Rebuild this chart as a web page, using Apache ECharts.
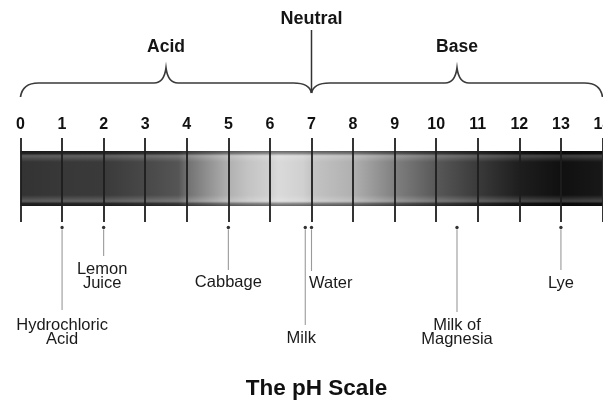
<!DOCTYPE html>
<html>
<head>
<meta charset="utf-8">
<script src="https://cdn.jsdelivr.net/npm/echarts@6/dist/echarts.min.js"></script>
<style>
html,body{margin:0;padding:0;background:#fff;}
#chart{width:603px;height:401px;}
</style>
</head>
<body>
<div id="chart"></div>
<script>
// ---------- data ----------
const phTicks = [0,1,2,3,4,5,6,7,8,9,10,11,12,13,14];
const tickLabels = ['0','1','2','3','4','5','6','7','8','9','10','11','12','13','14'];
const gradientPH   = [0, 1, 2, 3, 3.8, 4, 4.5, 5, 5.5, 6, 6.2, 6.8, 7, 8, 9, 10, 11, 12, 13, 14];
const gradientGray = [51, 56, 58, 72, 85, 112, 144, 176, 196, 208, 218, 208, 196, 176, 128, 88, 58, 30, 16, 24];
const regionNames = ['Acid', 'Base'];
const regionFrom  = [0, 7];
const regionTo    = [7, 14];
const neutralPH = 7;
const neutralLabel = 'Neutral';
const substanceNames = ['Hydrochloric\nAcid', 'Lemon\nJuice', 'Cabbage', 'Milk', 'Water', 'Milk of\nMagnesia', 'Lye'];
const substancePH    = [1, 2, 5, 6.85, 7, 10.5, 13];
const chartTitle = 'The pH Scale';

// ---------- layout (pixels / styles) ----------
const FONT = "'Liberation Sans', Arial, Helvetica, sans-serif";
const L = {
  gridTop: 138, gridBottomY: 222,
  barTop: 151, barBottom: 206,
  braceEndY: 97, braceLineY: 83, bracePeakY: 68, braceTipY: 93,
  regionLabelY: 47.5, neutralLabelY: 19.5, neutralLineTop: 30,
  dotY: 227.5
};
const calloutEnd   = [310, 256, 270, 325, 271, 312, 270];
const labelCenterY = [325, 269, 282.5, 338, 283, 325, 283];
const labelAlign   = ['center','center','center','center','left','center','center'];
const labelDx      = [0, -1.5, 0, -4, -2.5, 0, 0];

function gray(v){ return 'rgb(' + v + ',' + v + ',' + v + ')'; }

const chart = echarts.init(document.getElementById('chart'), null, {renderer:'canvas'});

const option = {
  animation: false,
  backgroundColor: '#ffffff',
  title: {
    text: chartTitle,
    left: 311.5, top: 372, textAlign: 'center',
    textStyle: {fontSize: 22.5, fontWeight: 'bold', color: '#111', fontFamily: FONT}
  },
  grid: {left: 20.5, right: 0.5, top: L.gridTop, height: L.gridBottomY - L.gridTop,
         containLabel: false, outerBoundsMode: 'none'},
  xAxis: {
    type: 'value', min: 0, max: 14, interval: 1, position: 'top', z: 5,
    axisLine: {show: false}, axisTick: {show: false},
    axisLabel: {
      show: true, margin: 5, fontSize: 16, fontWeight: 'bold', color: '#111', fontFamily: FONT,
      hideOverlap: false,
      formatter: function (v) { const i = phTicks.indexOf(v); return i >= 0 ? tickLabels[i] : ''; }
    },
    splitLine: {show: true, lineStyle: {color: '#1e1e1e', width: 1.8}}
  },
  yAxis: {type: 'value', min: 0, max: 1, show: false},
  series: [
    {
      // gradient bar
      type: 'custom', z: 1, silent: true,
      data: [[regionFrom[0], regionTo[regionTo.length - 1]]],
      renderItem: function (params, api) {
        const x0 = api.coord([api.value(0), 0])[0];
        const x1 = api.coord([api.value(1), 0])[0];
        const span = api.value(1) - api.value(0);
        const stops = gradientPH.map(function (p, i) {
          return {offset: (p - api.value(0)) / span, color: gray(gradientGray[i])};
        });
        const h = L.barBottom - L.barTop;
        return {
          type: 'group',
          children: [
            {type: 'rect', shape: {x: x0, y: L.barTop, width: x1 - x0, height: h},
             style: {fill: new echarts.graphic.LinearGradient(0, 0, 1, 0, stops)}},
            {type: 'rect', shape: {x: x0, y: L.barTop, width: x1 - x0, height: h},
             style: {fill: new echarts.graphic.LinearGradient(0, 0, 0, 1, [
               {offset: 0, color: 'rgba(0,0,0,0.55)'},
               {offset: 0.05, color: 'rgba(0,0,0,0.3)'},
               {offset: 0.09, color: 'rgba(255,255,255,0.2)'},
               {offset: 0.2, color: 'rgba(255,255,255,0)'},
               {offset: 0.8, color: 'rgba(255,255,255,0)'},
               {offset: 0.91, color: 'rgba(255,255,255,0.2)'},
               {offset: 0.95, color: 'rgba(0,0,0,0.3)'},
               {offset: 1, color: 'rgba(0,0,0,0.55)'}
             ])}}
          ]
        };
      }
    },
    {
      // braces + region labels
      type: 'custom', z: 6, silent: true,
      data: regionFrom.map(function (f, i) { return [f, regionTo[i], i]; }),
      renderItem: function (params, api) {
        const i = params.dataIndex;
        const a = api.value(0), b = api.value(1);
        const x0 = api.coord([a, 0])[0];
        const x1 = api.coord([b, 0])[0];
        const xm = api.coord([(a + b) / 2, 0])[0];
        const y0 = (a === neutralPH) ? L.braceTipY : L.braceEndY;
        const y1 = (b === neutralPH) ? L.braceTipY : L.braceEndY;
        const ly = L.braceLineY, py = L.bracePeakY;
        const d = 'M' + x0 + ',' + y0 +
          ' Q' + (x0 + 2) + ',' + ly + ' ' + (x0 + 18) + ',' + ly +
          ' L' + (xm - 12) + ',' + ly +
          ' Q' + (xm - 2) + ',' + ly + ' ' + xm + ',' + py +
          ' Q' + (xm + 2) + ',' + ly + ' ' + (xm + 12) + ',' + ly +
          ' L' + (x1 - 18) + ',' + ly +
          ' Q' + (x1 - 2) + ',' + ly + ' ' + x1 + ',' + y1;
        return {
          type: 'group',
          children: [
            {type: 'path', shape: {pathData: d}, style: {fill: 'none', stroke: '#3a3a3a', lineWidth: 1.7}},
            {type: 'text', style: {text: regionNames[i], x: xm, y: L.regionLabelY, align: 'center', verticalAlign: 'middle',
              fontSize: 17.5, fontWeight: 'bold', fontFamily: FONT, fill: '#151515'}}
          ]
        };
      }
    },
    {
      // neutral marker
      type: 'custom', z: 6, silent: true,
      data: [[neutralPH, 0]],
      renderItem: function (params, api) {
        const x = api.coord([api.value(0), 0])[0];
        return {
          type: 'group',
          children: [
            {type: 'line', shape: {x1: x, y1: L.neutralLineTop, x2: x, y2: L.braceTipY}, style: {stroke: '#333', lineWidth: 1.5}},
            {type: 'text', style: {text: neutralLabel, x: x, y: L.neutralLabelY, align: 'center', verticalAlign: 'middle',
              fontSize: 18, fontWeight: 'bold', fontFamily: FONT, fill: '#151515'}}
          ]
        };
      }
    },
    {
      // substance callouts
      type: 'custom', z: 6, silent: true,
      data: substancePH.map(function (p, i) { return [p, i]; }),
      renderItem: function (params, api) {
        const i = params.dataIndex;
        const x = api.coord([api.value(0), 0])[0];
        const lh = 14;
        return {
          type: 'group',
          children: [
            {type: 'circle', shape: {cx: x, cy: L.dotY, r: 1.7}, style: {fill: '#333'}},
            {type: 'line', shape: {x1: x, y1: L.dotY + 2, x2: x, y2: calloutEnd[i]}, style: {stroke: '#9a9a9a', lineWidth: 1.1}},
            {type: 'text', style: {text: substanceNames[i], x: x + labelDx[i], y: labelCenterY[i] - lh / 2,
              align: labelAlign[i], verticalAlign: 'top', lineHeight: lh,
              fontSize: 16.5, fontFamily: FONT, fill: '#1a1a1a'}}
          ]
        };
      }
    }
  ]
};
chart.setOption(option);
</script>
</body>
</html>
